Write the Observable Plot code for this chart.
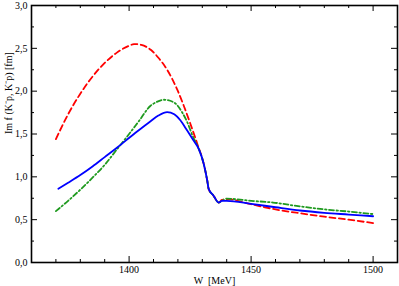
<!DOCTYPE html>
<html>
<head>
<meta charset="utf-8">
<script src="https://cdn.jsdelivr.net/npm/d3@7"></script>
<script src="https://cdn.jsdelivr.net/npm/@observablehq/plot@0.6"></script>
<style>
  html, body { margin: 0; padding: 0; background: white; }
</style>
</head>
<body>
<div id="chart"></div>
<script>
// Series: W [MeV] and Im f (K-p, K-p) [fm]
const W_red  = [1370, 1375, 1380, 1385, 1390, 1395, 1400, 1402, 1405, 1409, 1412, 1415.6, 1419.7, 1422.4, 1425.1, 1427.9, 1430.6, 1432, 1432.6, 1434.6, 1436.7, 1438, 1440, 1450, 1460, 1470, 1480, 1490, 1500];
const Im_red = [1.44, 1.73, 1.97, 2.17, 2.33, 2.45, 2.53, 2.55, 2.54, 2.48, 2.39, 2.25, 2.02, 1.83, 1.62, 1.39, 1.15, 0.96, 0.86, 0.78, 0.70, 0.73, 0.74, 0.68, 0.62, 0.575, 0.535, 0.50, 0.46];

const W_green  = [1370, 1375, 1380, 1385, 1390, 1395, 1400, 1404, 1408.8, 1411, 1414.3, 1418.3, 1421.8, 1423.8, 1426, 1428.5, 1430.6, 1432, 1432.6, 1434.6, 1436.7, 1438, 1440, 1450, 1459, 1470, 1480, 1490, 1500];
const Im_green = [0.60, 0.72, 0.85, 0.99, 1.14, 1.32, 1.50, 1.65, 1.83, 1.87, 1.90, 1.87, 1.75, 1.64, 1.48, 1.33, 1.15, 0.96, 0.86, 0.78, 0.70, 0.72, 0.745, 0.72, 0.70, 0.655, 0.62, 0.595, 0.565];

const W_blue  = [1371, 1375, 1380, 1385, 1390, 1395, 1402, 1408.8, 1412, 1415.6, 1418.5, 1421, 1423.8, 1426.5, 1428.5, 1430.6, 1432, 1432.6, 1434.6, 1436.7, 1438, 1440, 1450, 1460, 1470, 1480, 1490, 1500];
const Im_blue = [0.86, 0.93, 1.02, 1.12, 1.23, 1.34, 1.50, 1.65, 1.715, 1.755, 1.73, 1.66, 1.54, 1.42, 1.33, 1.15, 0.96, 0.86, 0.78, 0.70, 0.72, 0.72, 0.685, 0.645, 0.607, 0.58, 0.56, 0.54];

// Axis ticks
const xMajor = [1400, 1450, 1500];
const xMinor = [1370, 1380, 1390, 1410, 1420, 1430, 1440, 1460, 1470, 1480, 1490];
const yMajor = [0, 0.5, 1.0, 1.5, 2.0, 2.5, 3.0];
const yMinor = [0.25, 0.75, 1.25, 1.75, 2.25, 2.75];

const xLabel = "W  [MeV]";
const yLabel = "Im f (K\u207Bp, K\u207Bp) [fm]";

const toRows = (ws, vs) => ws.map((w, i) => ({W: w, v: vs[i]}));
const red = toRows(W_red, Im_red);
const green = toRows(W_green, Im_green);
const blue = toRows(W_blue, Im_blue);

const width = 399, height = 286;
const mL = 31, mR = 2, mT = 5, mB = 24;
const pw = width - mL - mR, ph = height - mT - mB;
const majLen = 6, minLen = 3;

const chart = Plot.plot({
  width, height,
  marginLeft: mL, marginRight: mR, marginTop: mT, marginBottom: mB,
  style: {fontFamily: "Liberation Serif, Times New Roman, serif", fontSize: "10px", background: "white", color: "black"},
  x: {domain: [1360, 1510]},
  y: {domain: [0, 3]},
  marks: [
    Plot.line(red, {x: "W", y: "v", stroke: "#ff0000", strokeWidth: 1.8, strokeDasharray: "6,3.5", curve: "monotone-x"}),
    Plot.line(green, {x: "W", y: "v", stroke: "#1f9a1f", strokeWidth: 1.8, strokeDasharray: "5,2.5,1.5,2.5", curve: "monotone-x"}),
    Plot.line(blue, {x: "W", y: "v", stroke: "#0000ff", strokeWidth: 1.8, curve: "monotone-x"}),
    // inward ticks, bottom & top
    Plot.ruleX(xMajor, {insetTop: ph - majLen, stroke: "black"}),
    Plot.ruleX(xMajor, {insetBottom: ph - majLen, stroke: "black"}),
    Plot.ruleX(xMinor, {insetTop: ph - minLen, stroke: "black"}),
    Plot.ruleX(xMinor, {insetBottom: ph - minLen, stroke: "black"}),
    // inward ticks, left & right
    Plot.ruleY(yMajor, {insetRight: pw - majLen, stroke: "black"}),
    Plot.ruleY(yMajor, {insetLeft: pw - majLen, stroke: "black"}),
    Plot.ruleY(yMinor, {insetRight: pw - minLen, stroke: "black"}),
    Plot.ruleY(yMinor, {insetLeft: pw - minLen, stroke: "black"}),
    Plot.frame({stroke: "black", strokeWidth: 1.6}),
    Plot.axisX(xMajor, {tickSize: 0, tickPadding: 3, label: null, tickFormat: d => String(d)}),
    Plot.axisY(yMajor, {tickSize: 0, tickPadding: 4, label: null, tickFormat: d => d.toFixed(1).replace(".", ",")}),
    Plot.text([xLabel], {frameAnchor: "bottom", dy: 21, lineAnchor: "bottom", text: d => d}),
    Plot.text([yLabel], {frameAnchor: "left", dx: -23, rotate: -90, text: d => d})
  ]
});
document.getElementById("chart").appendChild(chart);
</script>
</body>
</html>
